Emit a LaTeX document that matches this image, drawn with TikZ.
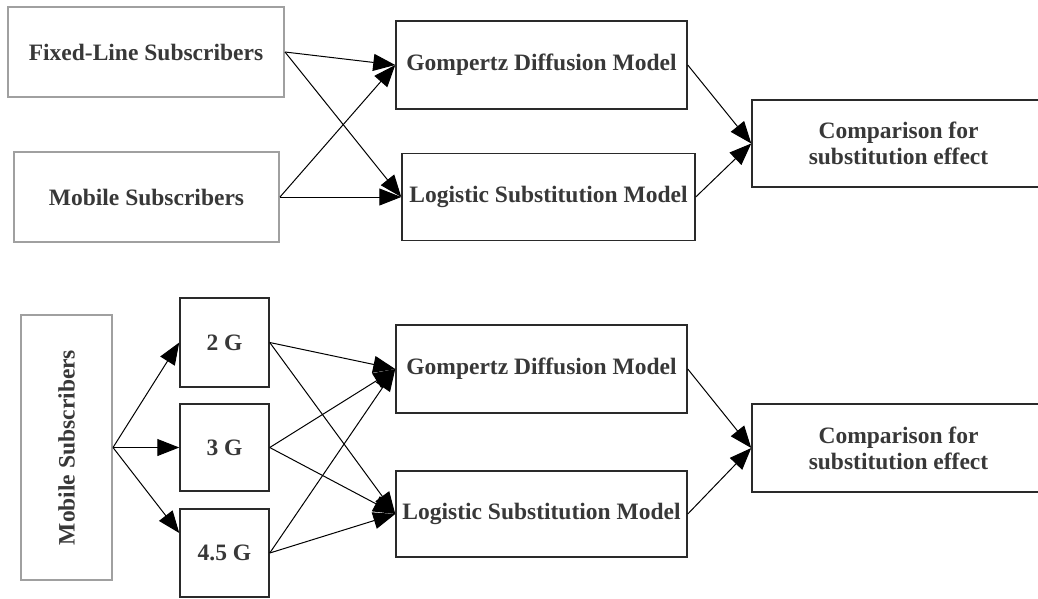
\documentclass[tikz,border=0pt]{standalone}
\usepackage{fontspec}
\setmainfont{Liberation Serif}
\usetikzlibrary{arrows.meta}
\definecolor{txt}{HTML}{383838}
\definecolor{graybox}{HTML}{A0A0A0}
\definecolor{blackbox}{HTML}{2A2A2A}
\tikzset{
  lbl/.style={font=\fontsize{23.5}{26}\selectfont\bfseries, text=txt, align=center, inner sep=0pt},
  graybx/.style={lbl, draw=graybox, line width=2pt, rectangle},
  blackbx/.style={lbl, draw=blackbox, line width=1.5pt, rectangle},
  arr/.style={draw=black, line width=1pt, -{Triangle[length=22pt,width=17pt]}}
}
\begin{document}
\begin{tikzpicture}[x=1pt,y=-1pt]
\useasboundingbox (0,0) rectangle (1038,598);
\fill[white] (0,0) rectangle (1038,598);
% top section
\node[graybx, minimum width=276pt, minimum height=90pt] (fixed) at (146,52) {Fixed-Line Subscribers};
\node[graybx, minimum width=265pt, minimum height=90pt] (mob) at (146.5,197) {Mobile Subscribers};
\node[blackbx, minimum width=291pt, minimum height=88pt] (gomp) at (541.5,65) {Gompertz Diffusion Model};
\node[blackbx, minimum width=293pt, minimum height=87pt] (logi) at (548.5,197) {Logistic Substitution Model};
\node[blackbx, minimum width=293pt, minimum height=87pt] (comp) at (898.5,143.5) {Comparison for\\substitution effect};
\draw[arr] (fixed.east) -- (gomp.west);
\draw[arr] (fixed.east) -- (logi.west);
\draw[arr] (mob.east) -- (gomp.west);
\draw[arr] (mob.east) -- (logi.west);
\draw[arr] (gomp.east) -- (comp.west);
\draw[arr] (logi.east) -- (comp.west);
% bottom section
\node[graybx, minimum width=265pt, minimum height=91pt, rotate=90] (mobv) at (66.5,447.5) {Mobile Subscribers};
\node[blackbx, minimum width=89pt, minimum height=89pt] (gtwo) at (224.5,342.5) {2 G};
\node[blackbx, minimum width=89pt, minimum height=87pt] (gthree) at (224.5,447.5) {3 G};
\node[blackbx, minimum width=89pt, minimum height=88pt] (gfour) at (224.5,553) {4.5 G};
\node[blackbx, minimum width=291pt, minimum height=88pt] (gompb) at (541.5,369) {Gompertz Diffusion Model};
\node[blackbx, minimum width=291pt, minimum height=86pt] (logib) at (541.5,514) {Logistic Substitution Model};
\node[blackbx, minimum width=293pt, minimum height=88pt] (compb) at (898.5,448) {Comparison for\\substitution effect};
\draw[arr] (mobv.south) -- (gtwo.west);
\draw[arr] (mobv.south) -- (gthree.west);
\draw[arr] (mobv.south) -- ([yshift=20pt]gfour.west);
\draw[arr] (gtwo.east) -- (gompb.west);
\draw[arr] (gtwo.east) -- (logib.west);
\draw[arr] (gthree.east) -- (gompb.west);
\draw[arr] (gthree.east) -- (logib.west);
\draw[arr] (gfour.east) -- (gompb.west);
\draw[arr] (gfour.east) -- (logib.west);
\draw[arr] (gompb.east) -- (compb.west);
\draw[arr] (logib.east) -- (compb.west);
\end{tikzpicture}
\end{document}
